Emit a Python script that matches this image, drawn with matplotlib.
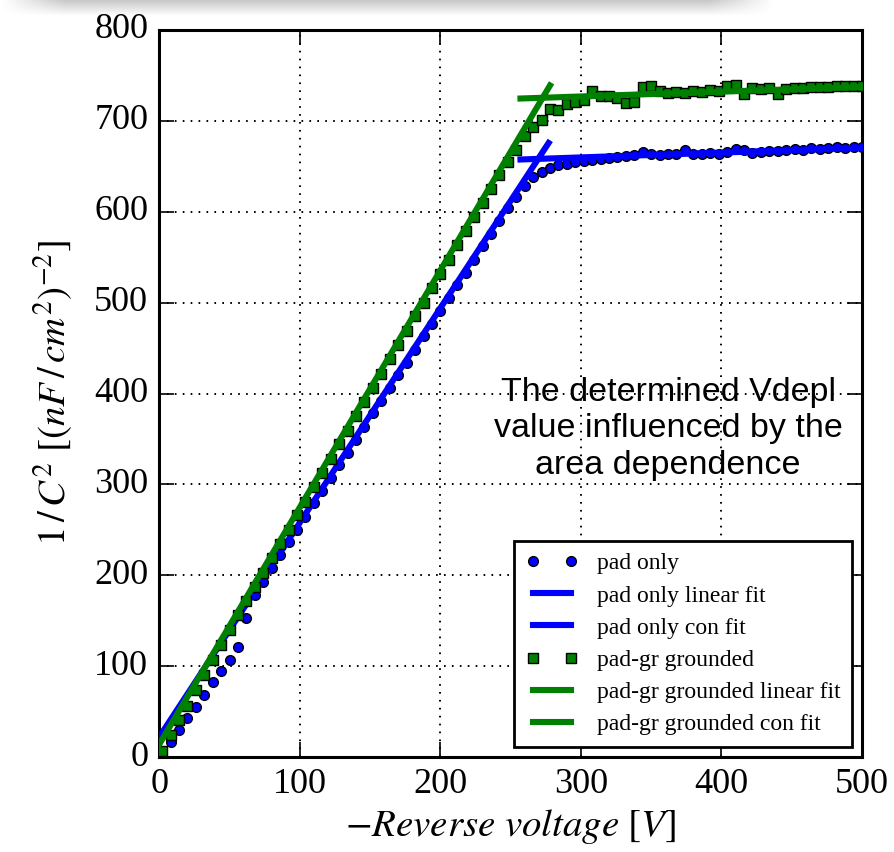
import numpy as np
import matplotlib
matplotlib.use("Agg")
import matplotlib.pyplot as plt

# Reverse bias voltage steps [V]
voltage = np.arange(2, 501, 6)

# 1/C^2 for the pad alone
pad_only = [
    5, 17, 30, 43, 55, 68, 82, 95, 107, 121,
    153, 178, 193, 208, 222, 237, 250, 264, 279, 293,
    307, 321, 335, 349, 363, 378, 392, 406, 420, 434,
    448, 463, 477, 491, 505, 519, 533, 547, 562, 576,
    590, 604, 616, 628, 638, 644, 648, 651, 653, 655,
    656, 657, 658, 659, 660, 661, 662, 666, 664, 662,
    663, 664, 668, 664, 663, 665, 664, 666, 669, 668,
    665, 666, 667, 667, 668, 669, 668, 670, 669, 670,
    671, 670, 671, 671,
]

# 1/C^2 for the pad with the guard ring grounded
pad_gr = [
    7, 24, 41, 56, 74, 90, 107, 123, 140, 156,
    172, 187, 203, 219, 234, 250, 266, 281, 297, 312,
    328, 344, 359, 375, 391, 406, 422, 438, 453, 469,
    485, 500, 516, 532, 547, 563, 579, 594, 610, 625,
    640, 655, 668, 683, 693, 701, 713, 712, 719, 721,
    723, 733, 727, 727, 725, 720, 721, 737, 738, 733,
    731, 732, 731, 733, 732, 734, 733, 738, 739, 730,
    736, 735, 736, 730, 735, 736, 736, 737, 737, 737,
    738, 738, 738, 738,
]

# Fitted segments: (V_start, V_end) and (y_start, y_end)
pad_lin_v = [0, 277]
pad_lin_y = [22, 675.7]
pad_con_v = [257, 500]
pad_con_y = [657.5, 670.5]
gr_lin_v = [0, 278]
gr_lin_y = [14, 739]
gr_con_v = [257, 500]
gr_con_y = [724.6, 737.4]

plt.style.use("classic")
plt.rcParams["font.family"] = ["Liberation Serif", "DejaVu Serif"]
plt.rcParams["mathtext.fontset"] = "stix"

fig = plt.figure(figsize=(8.95, 8.52), dpi=100, facecolor="white")

# soft grey shadow strip along the top edge
shade = fig.add_axes([0, 1 - 16 / 852, 775 / 895, 16 / 852])
grad = np.linspace(0.78, 1.0, 32)[:, None] * np.ones((1, 200))
edge = np.clip(np.linspace(0, 12, 200), 0, 1)[None, :]
edge = np.minimum(edge, np.clip(np.linspace(12, 0, 200), 0, 1)[None, :])
img = 1 - (1 - grad) * edge
shade.imshow(img, cmap="gray", vmin=0, vmax=1, aspect="auto",
             interpolation="bilinear")
shade.axis("off")

ax = fig.add_axes([159.3 / 895, 95 / 852, (862 - 159.3) / 895, (757 - 30) / 852])
ax.set_facecolor("white")

ax.plot(voltage, pad_only, "o", color="blue", markersize=7,
        markeredgecolor="black", markeredgewidth=1, label="pad only", zorder=3)
ax.plot(pad_lin_v, pad_lin_y, "-", color="blue", lw=4.4,
        label="pad only linear fit", zorder=4)
ax.plot(pad_con_v, pad_con_y, "-", color="blue", lw=4.4,
        label="pad only con fit", zorder=4)
ax.plot(voltage, pad_gr, "s", color="green", markersize=6.5,
        markeredgecolor="black", markeredgewidth=1,
        label="pad-gr grounded", zorder=5)
ax.plot(gr_lin_v, gr_lin_y, "-", color="green", lw=4.4,
        label="pad-gr grounded linear fit", zorder=6)
ax.plot(gr_con_v, gr_con_y, "-", color="green", lw=4.4,
        label="pad-gr grounded con fit", zorder=6)

ax.set_xlim(0, 500)
ax.set_ylim(0, 800)
ax.set_xticks(range(0, 501, 100))
ax.set_yticks(range(0, 801, 100))
ax.grid(True, color="black", linestyle=(0, (1.2, 4.5)), linewidth=1.4)
ax.tick_params(axis="both", which="major", labelsize=26, length=11,
               width=1.2, direction="in", top=True, right=True, pad=8)
for s in ax.spines.values():
    s.set_linewidth(2.2)

ax.set_xlabel(r"$-Reverse\ voltage\ [V]$", fontsize=28, labelpad=4)
ax.set_ylabel(r"$1\,/\,C^2\ [(nF\,/\,cm^2)^{-2}]$", fontsize=28, labelpad=14)

ax.text(0.724, 0.4515,
        "The determined Vdepl\nvalue influenced by the\narea dependence",
        transform=ax.transAxes, ha="center", va="center",
        fontsize=24.5, family=["Liberation Sans", "DejaVu Sans"],
        linespacing=1.22, zorder=7)

leg = ax.legend(loc="lower right", fontsize=17, numpoints=2,
                handlelength=2.2, borderpad=0.5, labelspacing=0.45,
                borderaxespad=0, fancybox=False, framealpha=1,
                bbox_to_anchor=(0.9858, 0.0138))
leg.get_frame().set_edgecolor("black")
leg.get_frame().set_linewidth(2)

fig.savefig("out.png", dpi=100, facecolor="white")
